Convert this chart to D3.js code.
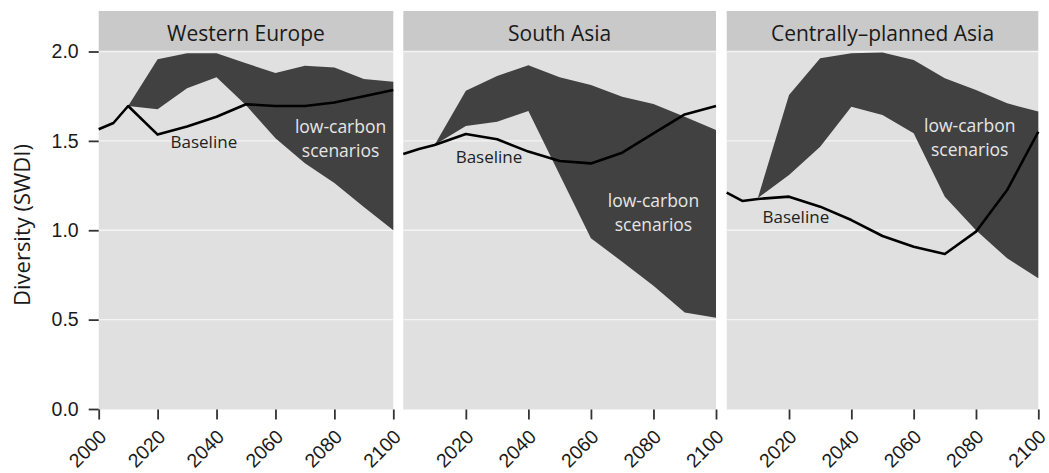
<!DOCTYPE html>
<html>
<head>
<meta charset="utf-8">
<script src="https://cdn.jsdelivr.net/npm/d3@7"></script>
<style>
  html, body { margin: 0; padding: 0; background: #ffffff; }
  svg { display: block; font-family: "Open Sans", "Noto Sans", sans-serif; }
</style>
</head>
<body>
<svg id="chart" width="1049" height="473"></svg>
<script>
// Facet titles
const regions = ["Western Europe", "South Asia", "Centrally\u2013planned Asia"];

// Baseline diversity per region
const baselineYears = [2000, 2005, 2010, 2020, 2030, 2040, 2050, 2060, 2070, 2080, 2090, 2100];
const baselineWE  = [1.565, 1.600, 1.695, 1.535, 1.580, 1.635, 1.705, 1.695, 1.695, 1.715, 1.750, 1.785];
const baselineSA  = [1.427, 1.455, 1.477, 1.538, 1.509, 1.440, 1.387, 1.374, 1.434, 1.542, 1.648, 1.695];
const baselineCPA = [1.210, 1.164, 1.175, 1.188, 1.132, 1.057, 0.968, 0.908, 0.867, 0.992, 1.225, 1.551];

// Range of the low-carbon scenarios (min / max)
const scenarioYears = [2010, 2020, 2030, 2040, 2050, 2060, 2070, 2080, 2090, 2100];
const upperWE  = [1.695, 1.956, 1.990, 1.990, 1.934, 1.880, 1.920, 1.910, 1.846, 1.831];
const lowerWE  = [1.695, 1.677, 1.794, 1.856, 1.700, 1.514, 1.375, 1.264, 1.130, 1.000];
const upperSA  = [1.477, 1.781, 1.863, 1.923, 1.856, 1.813, 1.747, 1.706, 1.635, 1.561];
const lowerSA  = [1.477, 1.583, 1.607, 1.667, 1.310, 0.955, 0.824, 0.690, 0.540, 0.510];
const upperCPA = [1.180, 1.757, 1.962, 1.990, 1.995, 1.952, 1.850, 1.785, 1.710, 1.664];
const lowerCPA = [1.180, 1.309, 1.467, 1.691, 1.645, 1.542, 1.188, 1.000, 0.843, 0.731];

// Axis ticks (the left panel also carries 2000)
const xTicksFirst = [2000, 2020, 2040, 2060, 2080, 2100];
const xTicksOther = [2020, 2040, 2060, 2080, 2100];
const yTicks = [0.0, 0.5, 1.0, 1.5, 2.0];

// In-panel labels, placed in data units [year, value]
const baselineLabelAt = [[2035.7, 1.46], [2027.4, 1.376], [2022.2, 1.04]];
const scenarioLabelAt = [[2082.1, 1.544], [2080.0, 1.13], [2078.0, 1.551]];

const baselines = [baselineWE, baselineSA, baselineCPA];
const uppers = [upperWE, upperSA, upperCPA];
const lowers = [lowerWE, lowerSA, lowerCPA];

const svg = d3.select("#chart");

const panelX = [[98.7, 393.3], [403.3, 716.0], [726.7, 1038.3]];
const stripTop = 11, plotTop = 51, plotBottom = 409.5;
const y = d3.scaleLinear().domain([0, 2]).range([409, 51.5]);

const colPanel = "#e0e0e0", colStrip = "#c9c9c9", colGrid = "#f4f4f4",
      colRibbon = "#414141", colText = "#1a1a1a";

regions.forEach((name, i) => {
  const x = d3.scaleLinear().domain([2000, 2100]).range(panelX[i]);
  const [x0, x1] = panelX[i];
  const g = svg.append("g");

  g.append("rect").attr("x", x0).attr("y", plotTop)
    .attr("width", x1 - x0).attr("height", plotBottom - plotTop).attr("fill", colPanel);

  g.append("rect").attr("x", x0).attr("y", stripTop)
    .attr("width", x1 - x0).attr("height", plotTop - stripTop).attr("fill", colStrip);
  g.append("text").attr("x", (x0 + x1) / 2).attr("y", 40.5)
    .attr("text-anchor", "middle")
    .attr("font-size", 21).attr("fill", colText).text(name);

  // horizontal grid
  g.selectAll(".grid").data(yTicks.filter(t => t > 0)).join("line")
    .attr("x1", x0).attr("x2", x1)
    .attr("y1", d => y(d)).attr("y2", d => y(d))
    .attr("stroke", colGrid).attr("stroke-width", 1.4);

  // scenario range
  const band = scenarioYears.map((yr, k) => ({ yr, lo: lowers[i][k], hi: uppers[i][k] }));
  g.append("path").datum(band)
    .attr("d", d3.area().x(d => x(d.yr)).y0(d => y(d.lo)).y1(d => y(d.hi)))
    .attr("fill", colRibbon);

  // baseline
  const base = baselineYears.map((yr, k) => ({ yr, v: baselines[i][k] }));
  g.append("path").datum(base)
    .attr("d", d3.line().x(d => x(d.yr)).y(d => y(d.v)))
    .attr("fill", "none").attr("stroke", "#000").attr("stroke-width", 2.6)
    .attr("stroke-linejoin", "round");

  // labels
  g.append("text").attr("x", x(baselineLabelAt[i][0])).attr("y", y(baselineLabelAt[i][1]))
    .attr("text-anchor", "middle").attr("font-size", 17).attr("fill", "#222").text("Baseline");
  const sl = g.append("text").attr("text-anchor", "middle").attr("font-size", 17.5).attr("fill", "#e6e6e6");
  sl.append("tspan").attr("x", x(scenarioLabelAt[i][0])).attr("y", y(scenarioLabelAt[i][1])).text("low-carbon");
  sl.append("tspan").attr("x", x(scenarioLabelAt[i][0])).attr("dy", 24).text("scenarios");

  // x axis
  const xa = g.append("g").attr("transform", `translate(0,${plotBottom})`)
    .call(d3.axisBottom(x).tickValues(i === 0 ? xTicksFirst : xTicksOther)
      .tickFormat(d3.format("d")).tickSize(10));
  xa.select(".domain").remove();
  xa.selectAll(".tick line").attr("stroke", "#333").attr("stroke-width", 1.8);
  xa.selectAll(".tick text")
    .attr("font-size", 19.5).attr("fill", colText).attr("font-family", null)
    .attr("text-anchor", "end").attr("x", 0).attr("y", 0).attr("dy", null)
    .attr("transform", "translate(8.5,28.5) rotate(-45)");

  if (i === 0) {
    const ya = g.append("g").attr("transform", `translate(${x0},0)`)
      .call(d3.axisLeft(y).tickValues(yTicks).tickFormat(d3.format(".1f")).tickSize(10).tickPadding(10));
    ya.select(".domain").remove();
    ya.selectAll(".tick line").attr("stroke", "#333").attr("stroke-width", 1.8);
    ya.selectAll(".tick text").attr("font-size", 19.5).attr("fill", colText).attr("font-family", null);
  }
});

svg.append("text")
  .attr("transform", "translate(30,225) rotate(-90)")
  .attr("text-anchor", "middle").attr("font-size", 22).attr("fill", colText)
  .text("Diversity (SWDI)");
</script>
</body>
</html>
